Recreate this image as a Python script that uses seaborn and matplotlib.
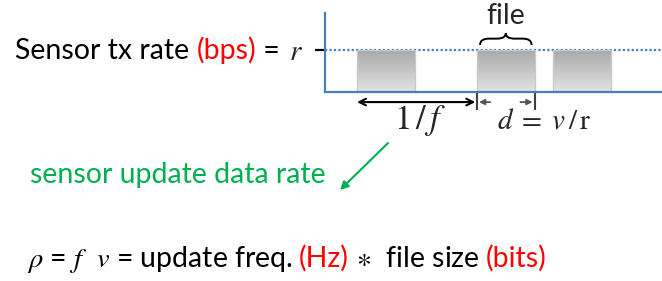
import numpy as np
import seaborn as sns
import matplotlib.pyplot as plt
from matplotlib.colors import LinearSegmentedColormap
from matplotlib.path import Path
from matplotlib.patches import PathPatch

# data (time axis in arbitrary units, rate normalised to r = 1)
bar_start = [9.5, 45.0, 67.7]
bar_width = 17.3
rate = 1.0
t_span = [0, 100]
file_bar = 1  # the bar labelled "file" and "d = v/r"

top_parts = [("Sensor tx rate ", "black"), ("(bps)", "red"), (" = ", "black")]
green_label = "sensor update data rate"
formula_parts = [(r"$\rho$ = $f$  $v$ = update freq. ", "black"), ("(Hz)", "red"),
                 (r" $\ast$  file size ", "black"), ("(bits)", "red")]

BLUE = "#4a7ebb"
GREEN = "#00b050"
FS = 20.5

sns.set_theme(style="white")
plt.rcParams["font.family"] = ["Lato", "DejaVu Sans"]
plt.rcParams["mathtext.fontset"] = "stix"

W, H = 662, 281
fig = plt.figure(figsize=(W / 100, H / 100), dpi=100)
fig.patch.set_facecolor("white")
ax = fig.add_axes([325 / W, 1 - 92 / H, 337 / W, 79 / H])
ax.set_facecolor("none")

# rate level line
sns.lineplot(x=t_span, y=[rate, rate], ax=ax, color=BLUE, lw=1.6, dashes=False)
ax.lines[-1].set_linestyle((0, (1, 1)))

# gray gradient bars
bars = ax.bar(bar_start, rate, width=bar_width, align="edge", facecolor="none",
              edgecolor="#c8c8c8", lw=1, zorder=3)
cmap = LinearSegmentedColormap.from_list("g", ["#e4e4e4", "#a8a8a8"])
grad = np.linspace(0, 1, 100).reshape(-1, 1)
for b in bars:
    im = ax.imshow(grad, extent=[b.get_x(), b.get_x() + b.get_width(), 0, rate],
                   origin="lower", aspect="auto", cmap=cmap, zorder=2)
    im.set_clip_path(b)

ax.set_xlim(*t_span)
ax.set_ylim(0, 1.88)
sns.despine(ax=ax)
for s in ["left", "bottom"]:
    ax.spines[s].set_color(BLUE)
    ax.spines[s].set_linewidth(1.6)
    ax.spines[s].set_zorder(4)
ax.set_xticks([])
ax.set_yticks([rate])
ax.set_yticklabels(["$r$"])
ax.tick_params(axis="y", left=True, length=7, width=1.6, color="black",
               pad=9, labelsize=21, direction="out")

# brace over the file bar
x0 = bar_start[file_bar] + 1.0
x1 = bar_start[file_bar] + bar_width - 1.0
xm = (x0 + x1) / 2
yl, ymid, yt, q = 1.12, 1.27, 1.40, 2.6
verts = [(x0, yl), (x0, ymid), (x0 + q, ymid), (xm - q, ymid), (xm, ymid), (xm, yt),
         (xm, ymid), (xm + q, ymid), (x1 - q, ymid), (x1, ymid), (x1, yl)]
codes = [Path.MOVETO, Path.CURVE3, Path.CURVE3, Path.LINETO, Path.CURVE3, Path.CURVE3,
         Path.CURVE3, Path.CURVE3, Path.LINETO, Path.CURVE3, Path.CURVE3]
ax.add_patch(PathPatch(Path(verts, codes), fill=False, lw=1.4, ec="black", clip_on=False))
ax.text(xm, 1.62, "file", ha="center", va="baseline", fontsize=FS)

# period arrow 1/f
ya = -0.24
ax.annotate("", xy=(bar_start[1] - 0.4, ya), xytext=(bar_start[0], ya),
            arrowprops=dict(arrowstyle="<->", lw=1.5, color="black", mutation_scale=12,
                            shrinkA=0, shrinkB=0), annotation_clip=False)
ax.text((bar_start[0] + bar_start[1]) / 2 + 1.0, -0.88, r"$1\,/\,f$", ha="center",
        va="baseline", fontsize=25)

# duration marks d
fs, fe = bar_start[file_bar], bar_start[file_bar] + bar_width
ax.vlines([fs, fe], -0.43, 0, color="#404040", lw=1.5, clip_on=False)
for tip, tail in [(fs + 0.7, fs + 4.0), (fe - 0.7, fe - 4.3)]:
    ax.annotate("", xy=(tip, ya), xytext=(tail, ya),
                arrowprops=dict(arrowstyle="-|>", lw=1.3, color="#555555", mutation_scale=8,
                                shrinkA=0, shrinkB=0), annotation_clip=False)
ax.text(fs + 6.0, -0.88, r"$d\;=\;v\,/\,\mathrm{r}$", ha="left", va="baseline",
        fontsize=21)


def text_row(x_px, y_px, parts, size):
    r = fig.canvas.get_renderer()
    probe = fig.text(0, 0, "|", fontsize=size)
    bar_w = probe.get_window_extent(r).width

    def width(s):
        probe.set_text(s + "|")
        return probe.get_window_extent(r).width - bar_w

    prefix = ""
    for s, c in parts:
        fig.text((x_px + width(prefix)) / W, 1 - y_px / H, s, color=c, fontsize=size,
                 va="baseline")
        prefix += s
    probe.remove()


text_row(15, 59, top_parts, FS)
fig.text(30 / W, 1 - 183 / H, green_label, color=GREEN, fontsize=FS, va="baseline")
ax.annotate("", xy=(340, H - 190), xycoords="figure pixels", xytext=(388, H - 143),
            textcoords="figure pixels",
            arrowprops=dict(arrowstyle="-|>", lw=1.5, color=GREEN, mutation_scale=12,
                            shrinkA=0, shrinkB=0))
text_row(27, 267, formula_parts, FS)

fig.savefig("out.png", dpi=100)
